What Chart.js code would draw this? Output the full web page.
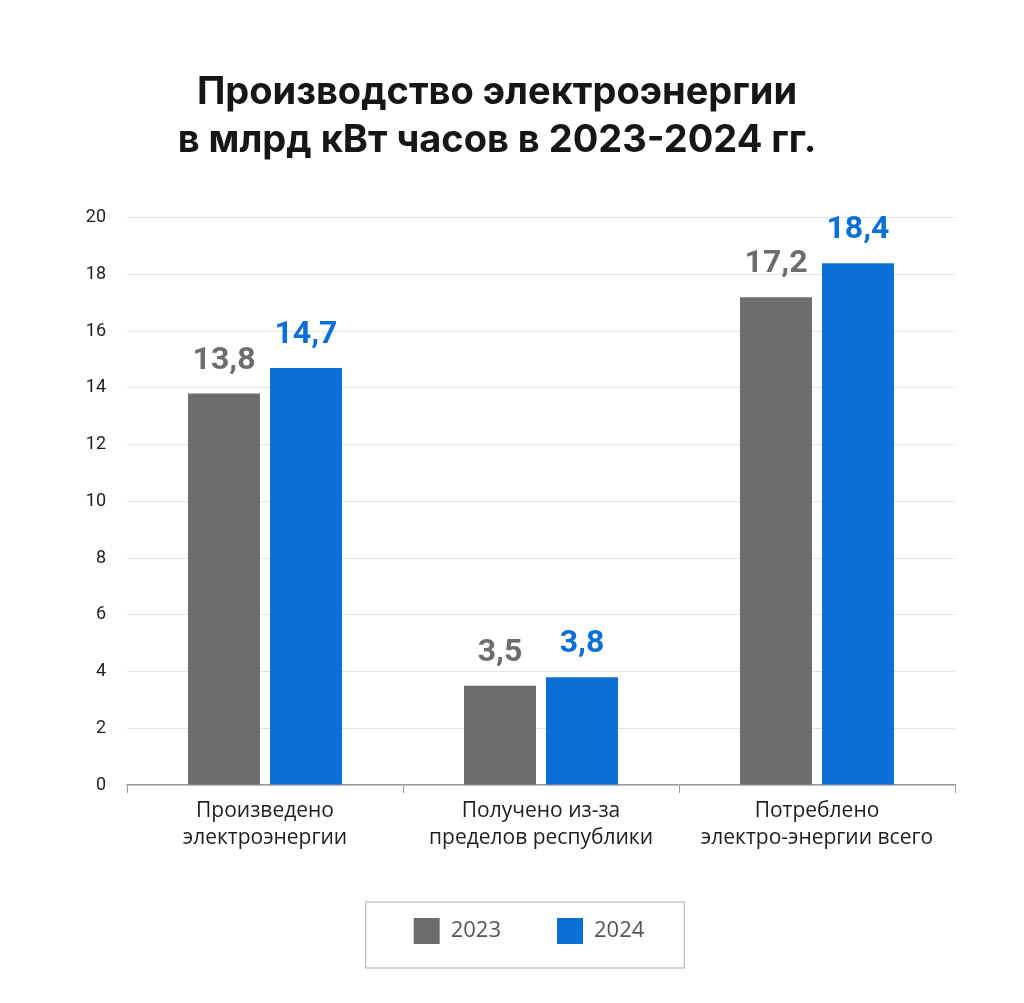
<!DOCTYPE html>
<html>
<head>
<meta charset="utf-8">
<script src="https://cdn.jsdelivr.net/npm/chart.js@4/dist/chart.umd.min.js"></script>
<style>
  body { margin: 0; background: #fff; }
  #wrap { width: 1024px; height: 1003px; position: relative; }
</style>
</head>
<body>
<div id="wrap"><canvas id="myChart"></canvas></div>
<script>
const categories = [
  ['Произведено', 'электроэнергии'],
  ['Получено из-за', 'пределов республики'],
  ['Потреблено', 'электро-энергии всего']
]
const years = ['2023', '2024']
const data2023 = [13.8, 3.5, 17.2]
const data2024 = [14.7, 3.8, 18.4]
const yTicks = [0, 2, 4, 6, 8, 10, 12, 14, 16, 18, 20]

const grayCol = '#6b6d6f'
const blueCol = '#0a6fd6'

// value labels above the bars, comma as decimal separator
const valueLabels = {
  id: 'valueLabels',
  afterDatasetsDraw(chart) {
    const ctx = chart.ctx
    ctx.save()
    ctx.font = 'bold 32px Roboto'
    ctx.textAlign = 'center'
    ctx.textBaseline = 'bottom'
    chart.data.datasets.forEach((ds, i) => {
      const meta = chart.getDatasetMeta(i)
      meta.data.forEach((bar, j) => {
        ctx.fillStyle = ds.labelColor
        ctx.fillText(ds.data[j].toFixed(1).replace('.', ','), bar.x, bar.y - 17)
      })
    })
    ctx.restore()
  }
}

// legend sits a bit right of the centre in the original, and has a frame
const legendFrame = {
  id: 'legendFrame',
  afterLayout(chart) {
    const lg = chart.legend
    lg.left += 32
    lg.right += 32
  },
  afterDraw(chart) {
    const lg = chart.legend
    if (!lg || !lg.legendHitBoxes.length) return
    const boxes = lg.legendHitBoxes
    const x1 = boxes[0].left - 48
    const last = boxes[boxes.length - 1]
    const x2 = last.left + last.width + 40
    const y1 = boxes[0].top - 16
    const ctx = chart.ctx
    ctx.save()
    ctx.strokeStyle = '#c8c8c8'
    ctx.lineWidth = 1.5
    ctx.strokeRect(x1, y1, x2 - x1, 66)
    ctx.restore()
  }
}

const ctx = document.getElementById('myChart').getContext('2d')
const myChart = new Chart(ctx, {
  type: 'bar',
  data: {
    labels: categories,
    datasets: [{
      label: years[0],
      data: data2023,
      backgroundColor: grayCol,
      labelColor: grayCol,
      categoryPercentage: 0.594,
      barPercentage: 0.878
    }, {
      label: years[1],
      data: data2024,
      backgroundColor: blueCol,
      labelColor: blueCol,
      categoryPercentage: 0.594,
      barPercentage: 0.878
    }]
  },
  plugins: [valueLabels, legendFrame],
  options: {
    responsive: true,
    maintainAspectRatio: false,
    animation: false,
    layout: {
      padding: { top: 69, right: 69, bottom: 49, left: 39 }
    },
    plugins: {
      tooltip: { enabled: false },
      title: {
        display: true,
        text: ['Производство электроэнергии', 'в млрд кВт часов в 2023-2024 гг.'],
        color: '#161616',
        font: { family: 'Inter', size: 38, weight: 'bold', lineHeight: 1.26 },
        padding: { top: 0, bottom: 53 }
      },
      legend: {
        display: true,
        position: 'bottom',
        labels: {
          color: '#555',
          font: { family: 'Open Sans', size: 22 },
          boxWidth: 26,
          boxHeight: 26,
          padding: 56,
          generateLabels(chart) {
            return chart.data.datasets.map((ds, i) => ({
              text: ds.label,
              fillStyle: ds.backgroundColor,
              strokeStyle: ds.backgroundColor,
              lineWidth: 0,
              fontColor: '#555',
              datasetIndex: i
            }))
          }
        }
      }
    },
    scales: {
      x: {
        grid: {
          display: true,
          offset: true,
          drawOnChartArea: false,
          drawTicks: true,
          tickLength: 8,
          color: '#9a9a9a'
        },
        border: { display: true, color: '#9a9a9a', width: 1.5 },
        ticks: {
          color: '#1e1e1e',
          font: { family: 'Open Sans', size: 21, lineHeight: 1.3 },
          padding: 4,
          maxRotation: 0
        },
        afterFit(scale) { scale.height = 77 }
      },
      y: {
        min: 0,
        max: 20,
        afterBuildTicks(scale) { scale.ticks = yTicks.map(v => ({ value: v })) },
        grid: { color: '#e2e2e2', lineWidth: 1, drawTicks: false },
        border: { display: false },
        ticks: {
          color: '#1e1e1e',
          font: { family: 'Roboto', size: 18 },
          padding: 21
        },
        afterFit(scale) { scale.width = 88 }
      }
    }
  }
})
</script>
</body>
</html>
